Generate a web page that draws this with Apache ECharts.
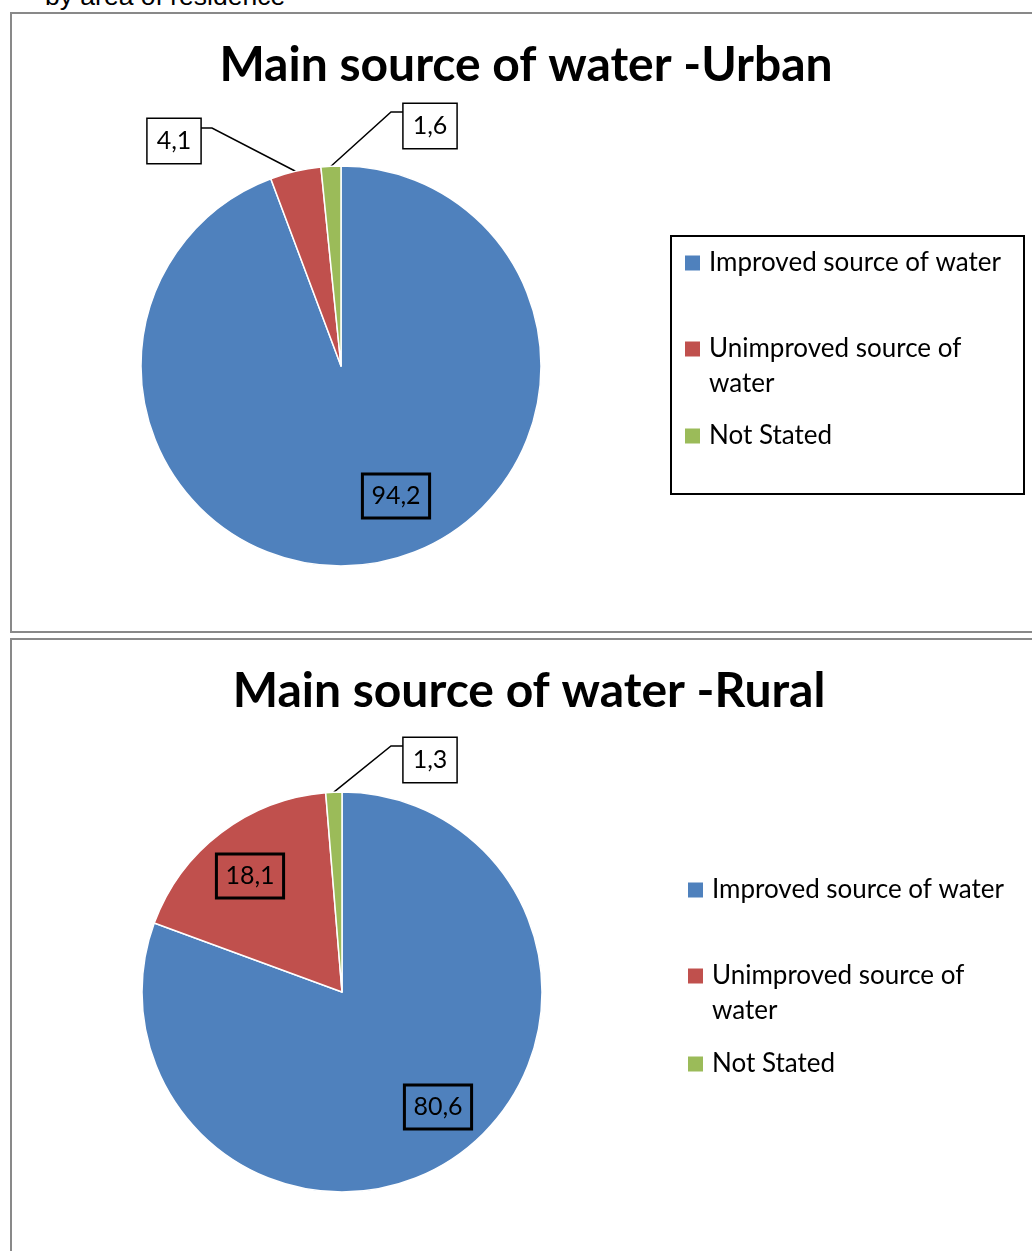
<!DOCTYPE html>
<html>
<head>
<meta charset="utf-8">
<script src="https://cdn.jsdelivr.net/npm/echarts@6/dist/echarts.min.js"></script>
<style>
  html, body { margin: 0; padding: 0; background: #fff; overflow: hidden; width: 1032px; height: 1251px; }
  .caption { position: absolute; left: 45px; top: -17px; font: 26.5px/26px "Liberation Sans", Arial, sans-serif; color: #000; white-space: nowrap; }
  .box { position: absolute; box-sizing: border-box; border: 2px solid #898989; background: #fff; }
  #urban { left: 10px; top: 12px; width: 1032px; height: 621px; }
  #rural { left: 10px; top: 638px; width: 1038px; height: 640px; }
</style>
</head>
<body>
<div class="caption">by area of residence</div>
<div id="urban" class="box"></div>
<div id="rural" class="box"></div>
<script>
// values
var categories = ["Improved source of water", "Unimproved source of water", "Not Stated"];
var urbanValues = [94.2, 4.1, 1.6];
var ruralValues = [80.6, 18.1, 1.3];
var colors = ["#4F81BD", "#C0504D", "#9BBB59"];

var FONT = "Lato";

function fmt(v) {
  return String(v).replace(".", ",");
}

// label spots, relative to the pie centre
function makeLabelLayout(center, spots) {
  return function (params) {
    var s = spots[params.dataIndex];
    var out = {
      x: center[0] + s.at[0],
      y: center[1] + s.at[1],
      align: "center",
      verticalAlign: "middle"
    };
    if (s.elbow && params.labelLinePoints) {
      var start = params.labelLinePoints[0];
      out.labelLinePoints = [
        start,
        [center[0] + s.elbow[0], center[1] + s.elbow[1]],
        [center[0] + s.end, center[1] + s.elbow[1]]
      ];
    }
    return out;
  };
}

function buildData(values, inside) {
  return categories.map(function (name, i) {
    return {
      name: name,
      value: values[i],
      label: inside[i]
        ? { position: "inside", backgroundColor: "transparent" }
        : { position: "outside", backgroundColor: "#fff" },
      labelLine: { show: !inside[i] }
    };
  });
}

// one legend per entry so the uneven spacing of the original can be kept
function legendItem(name, left, top) {
  return {
    data: [name],
    left: left,
    top: top,
    orient: "vertical",
    padding: 0,
    icon: "rect",
    itemWidth: 15,
    itemHeight: 15,
    itemStyle: { borderWidth: 0 },
    selectedMode: false,
    formatter: function (n) {
      // blank first line keeps the key square level with the first text line
      return n === categories[1] ? "\nUnimproved source of\nwater" : n;
    },
    textStyle: {
      fontFamily: FONT,
      fontSize: 26,
      lineHeight: 35,
      color: "#000",
      padding: [0, 0, 0, 4]
    }
  };
}

function buildOption(title, values, inside, center, spots, legendLeft, legendTops, legendFrame) {
  var option = {
    animation: false,
    color: colors,
    title: {
      text: title,
      left: "center",
      top: 23,
      padding: 0,
      textStyle: { fontFamily: FONT, fontWeight: "bold", fontSize: 48, lineHeight: 58, color: "#000" }
    },
    legend: [
      legendItem(categories[0], legendLeft, legendTops[0]),
      legendItem(categories[1], legendLeft, legendTops[1]),
      legendItem(categories[2], legendLeft, legendTops[2])
    ],
    series: [
      {
        type: "pie",
        center: center,
        radius: 200,
        startAngle: 90,
        clockwise: true,
        avoidLabelOverlap: false,
        itemStyle: { borderColor: "#fff", borderWidth: 1.5 },
        label: {
          show: true,
          formatter: function (p) { return fmt(p.value); },
          fontFamily: FONT,
          fontSize: 25,
          lineHeight: 28,
          color: "#000",
          borderColor: "#000",
          borderWidth: 1.5,
          padding: [8, 9]
        },
        labelLine: {
          show: true,
          length: 20,
          length2: 10,
          lineStyle: { color: "#000", width: 1.5 }
        },
        labelLayout: makeLabelLayout(center, spots),
        emphasis: { disabled: true },
        data: buildData(values, inside)
      }
    ]
  };
  if (legendFrame) {
    option.graphic = [
      {
        type: "rect",
        shape: legendFrame,
        style: { fill: "none", stroke: "#000", lineWidth: 2 }
      }
    ];
  }
  return option;
}

var urbanChart = echarts.init(document.getElementById("urban"), null, { renderer: "canvas" });
urbanChart.setOption(
  buildOption(
    "Main source of water -Urban",
    urbanValues,
    [true, false, false],
    [329, 352],
    [
      { at: [55, 130] },
      { at: [-167, -225], elbow: [-129, -238], end: -141 },
      { at: [89, -240], elbow: [50, -254], end: 62 }
    ],
    673,
    [231.5, 282.5, 404.5],
    { x: 659, y: 222, width: 353, height: 258 }
  )
);

var ruralChart = echarts.init(document.getElementById("rural"), null, { renderer: "canvas" });
ruralChart.setOption(
  buildOption(
    "Main source of water -Rural",
    ruralValues,
    [true, true, false],
    [330, 352],
    [
      { at: [96, 115] },
      { at: [-92, -116] },
      { at: [88, -232], elbow: [49, -246], end: 61 }
    ],
    676,
    [232.5, 283.5, 406.5],
    null
  )
);
</script>
</body>
</html>
